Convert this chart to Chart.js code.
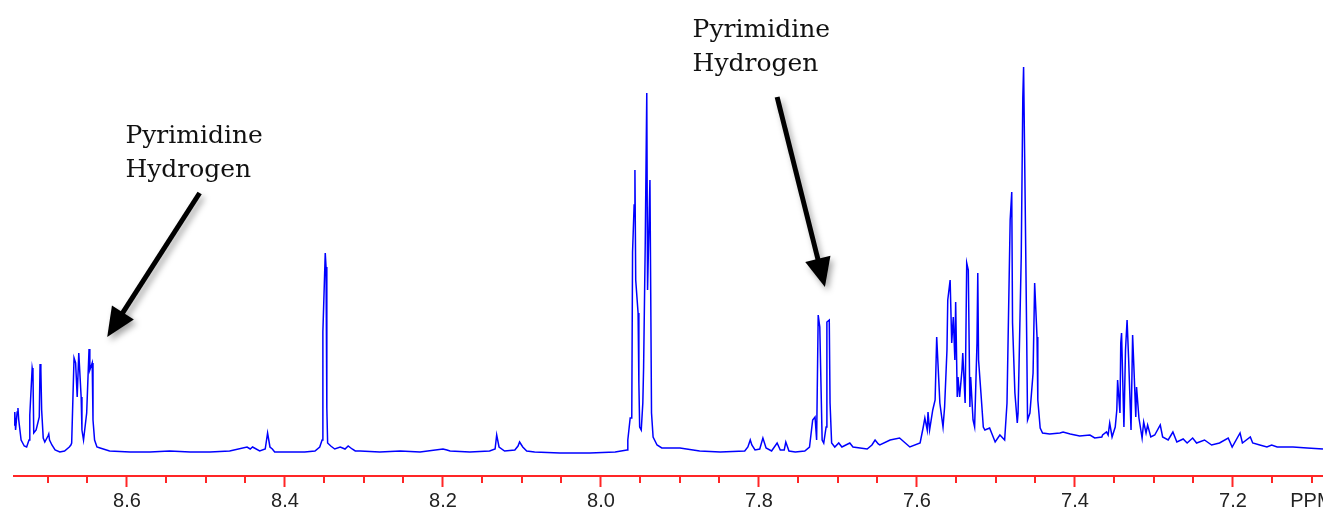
<!DOCTYPE html>
<html>
<head>
<meta charset="utf-8">
<script src="https://cdn.jsdelivr.net/npm/chart.js@4.4.1/dist/chart.umd.min.js"></script>
<style>
  html, body { margin: 0; padding: 0; background: #fff; }
  canvas { display: block; }
</style>
</head>
<body>
<canvas id="nmrChart" width="1323" height="510"></canvas>
<script>
// chemical shift (ppm) and signal intensity (arbitrary units, baseline ~0)
const shiftPpm = [
  8.743, 8.742, 8.741, 8.739, 8.738, 8.737, 8.734, 8.730, 8.727, 8.724, 8.723, 8.720, 8.719, 8.718,
  8.715, 8.711, 8.710, 8.709, 8.708, 8.706, 8.704, 8.700, 8.699, 8.698, 8.695, 8.691, 8.685, 8.679,
  8.673, 8.671, 8.670, 8.667, 8.665, 8.663, 8.661, 8.658, 8.657, 8.655, 8.651, 8.648, 8.647, 8.644,
  8.643, 8.641, 8.638, 8.634, 8.622, 8.596, 8.571, 8.546, 8.520, 8.495, 8.470, 8.448, 8.444, 8.441,
  8.432, 8.425, 8.422, 8.419, 8.416, 8.413, 8.394, 8.375, 8.362, 8.356, 8.353, 8.352, 8.349, 8.348,
  8.347, 8.346, 8.342, 8.337, 8.330, 8.324, 8.320, 8.315, 8.311, 8.305, 8.280, 8.254, 8.229, 8.200,
  8.195, 8.191, 8.166, 8.141, 8.134, 8.132, 8.129, 8.122, 8.109, 8.105, 8.103, 8.099, 8.094, 8.084,
  8.052, 8.014, 7.982, 7.967, 7.966, 7.963, 7.961, 7.960, 7.958, 7.957, 7.956, 7.953, 7.952, 7.951,
  7.949, 7.947, 7.946, 7.944, 7.942, 7.941, 7.938, 7.937, 7.936, 7.934, 7.929, 7.923, 7.900, 7.875,
  7.849, 7.818, 7.814, 7.811, 7.809, 7.805, 7.799, 7.795, 7.791, 7.784, 7.777, 7.773, 7.768, 7.766,
  7.762, 7.754, 7.742, 7.736, 7.732, 7.729, 7.727, 7.725, 7.723, 7.720, 7.718, 7.715, 7.714, 7.711,
  7.710, 7.708, 7.704, 7.699, 7.695, 7.690, 7.685, 7.681, 7.672, 7.663, 7.657, 7.653, 7.649, 7.647,
  7.634, 7.622, 7.609, 7.596, 7.592, 7.590, 7.587, 7.586, 7.584, 7.580, 7.577, 7.575, 7.573, 7.571,
  7.567, 7.565, 7.562, 7.561, 7.558, 7.556, 7.554, 7.552, 7.551, 7.549, 7.548, 7.546, 7.543, 7.542,
  7.539, 7.537, 7.535, 7.533, 7.532, 7.529, 7.527, 7.524, 7.523, 7.522, 7.519, 7.516, 7.514, 7.508,
  7.501, 7.495, 7.489, 7.486, 7.482, 7.480, 7.479, 7.476, 7.473, 7.472, 7.468, 7.466, 7.465, 7.463,
  7.461, 7.460, 7.457, 7.453, 7.451, 7.448, 7.447, 7.444, 7.441, 7.432, 7.419, 7.415, 7.406, 7.394,
  7.381, 7.375, 7.366, 7.365, 7.360, 7.358, 7.356, 7.353, 7.349, 7.347, 7.346, 7.343, 7.342, 7.341,
  7.338, 7.336, 7.334, 7.332, 7.329, 7.327, 7.325, 7.323, 7.322, 7.319, 7.315, 7.313, 7.310, 7.308,
  7.304, 7.299, 7.292, 7.289, 7.282, 7.276, 7.271, 7.263, 7.258, 7.251, 7.246, 7.236, 7.227, 7.217,
  7.206, 7.201, 7.191, 7.188, 7.178, 7.175, 7.166, 7.157, 7.151, 7.144, 7.124, 7.106, 7.086
];
const intensity = [
  25, 38, 20, 38, 42, 30, 10, 4, 3, 10, 35, 82, 77, 17,
  20, 33, 86, 80, 40, 12, 8, 14, 16, 10, 5, 0, -2, -1,
  3, 5, 7, 92, 87, 53, 97, 53, 20, 10, 37, 101, 80, 87,
  30, 10, 3, 2, -1, -2, -2, -1, -2, -2, -1, 3, 1, 3,
  -1, 1, 17, 3, 1, -2, -2, -2, -1, 3, 10, 118, 197, 183,
  42, 7, 4, 1, 3, 1, 4, 1, -1, -1, -2, -1, -2, 1,
  0, -1, -2, -1, 1, 15, 3, -1, 0, 4, 8, 3, -1, -2,
  -3, -3, -2, 0, 10, 32, 32, 198, 245, 280, 170, 137, 67, 23,
  20, 47, 83, 203, 357, 160, 270, 157, 37, 13, 5, 2, 2, -1,
  -2, -1, 3, 10, 5, 0, 1, 12, 2, -1, 7, 0, 0, 8,
  -1, -2, -1, 3, 30, 33, 10, 135, 123, 10, 7, 23, 128, 130,
  47, 7, 3, 7, 3, 5, 7, 3, 2, 1, 5, 10, 6, 5,
  10, 12, 3, 7, 23, 32, 20, 38, 20, 40, 50, 113, 80, 47,
  23, 43, 100, 150, 170, 107, 133, 90, 148, 53, 73, 53, 80, 97,
  47, 187, 180, 43, 73, 30, 23, 107, 177, 90, 57, 23, 20, 22,
  8, 15, 10, 47, 230, 258, 127, 57, 27, 37, 193, 352, 383, 248,
  107, 30, 37, 77, 167, 113, 50, 22, 17, 16, 17, 18, 16, 14,
  15, 12, 13, 15, 18, 15, 27, 13, 23, 40, 70, 37, 107, 117,
  23, 100, 130, 90, 20, 115, 75, 33, 63, 32, 12, 28, 17, 25,
  13, 15, 25, 13, 10, 18, 8, 11, 7, 12, 7, 10, 5, 7,
  12, 3, 17, 7, 13, 7, 5, 3, 5, 3, 3, 2, 1
];

const majorTicks = [8.6, 8.4, 8.2, 8.0, 7.8, 7.6, 7.4, 7.2];
const tickLabels = ['8.6', '8.4', '8.2', '8.0', '7.8', '7.6', '7.4', '7.2'];
const unitTick = 7.1;
const unitLabel = 'PPM';

// annotation labels, anchored in data units (ppm, intensity)
const noteLines = [['Pyrimidine', 'Hydrogen'], ['Pyrimidine', 'Hydrogen']];
const noteTextAt = [[8.602, 307], [7.884, 413]];
const arrowTail = [[8.508, 257], [7.777, 353]];
const arrowTip = [[8.625, 113], [7.7165, 163]];

const AXIS_RED = '#ff2626';

const isMajor = (v) => majorTicks.some((m) => Math.abs(m - v) < 1e-6);

const minorTicks = {
    id: 'minorTicks',
    afterDraw(chart) {
        const sc = chart.scales.x;
        const ctx = chart.ctx;
        ctx.save();
        ctx.strokeStyle = AXIS_RED;
        ctx.lineWidth = 2;
        sc.ticks.forEach((t) => {
            if (isMajor(t.value)) return;
            const x = Math.round(sc.getPixelForValue(t.value));
            ctx.beginPath();
            ctx.moveTo(x, sc.top);
            ctx.lineTo(x, sc.top + 7);
            ctx.stroke();
        });
        ctx.restore();
    }
};

const arrowNotes = {
    id: 'arrowNotes',
    afterDraw(chart) {
        const xs = chart.scales.x, ys = chart.scales.y;
        const ctx = chart.ctx;
        const px = (p) => [xs.getPixelForValue(p[0]), ys.getPixelForValue(p[1])];
        ctx.save();
        ctx.font = '25px "DejaVu Serif", serif';
        ctx.fillStyle = '#111';
        ctx.textBaseline = 'alphabetic';
        noteLines.forEach((lines, i) => {
            const [tx, ty] = px(noteTextAt[i]);
            lines.forEach((s, k) => ctx.fillText(s, tx, ty + k * 34));
        });

        arrowTail.forEach((tail, i) => {
            const [x0, y0] = px(tail);
            const [x1, y1] = px(arrowTip[i]);
            const len = Math.hypot(x1 - x0, y1 - y0);
            const ux = (x1 - x0) / len, uy = (y1 - y0) / len;
            const headLen = 29, half = 13;
            const bx = x1 - ux * headLen, by = y1 - uy * headLen;
            ctx.save();
            ctx.shadowColor = 'rgba(0,0,0,0.35)';
            ctx.shadowBlur = 6;
            ctx.shadowOffsetX = 3;
            ctx.shadowOffsetY = 4;
            ctx.strokeStyle = '#000';
            ctx.fillStyle = '#000';
            ctx.lineWidth = 5;
            ctx.beginPath();
            ctx.moveTo(x0, y0);
            ctx.lineTo(bx + ux * 4, by + uy * 4);
            ctx.stroke();
            ctx.beginPath();
            ctx.moveTo(x1, y1);
            ctx.lineTo(bx - uy * half, by + ux * half);
            ctx.lineTo(bx + uy * half, by - ux * half);
            ctx.closePath();
            ctx.fill();
            ctx.restore();
        });
        ctx.restore();
    }
};

new Chart(document.getElementById('nmrChart'), {
    type: 'line',
    data: {
        datasets: [{
            label: '1H NMR',
            data: shiftPpm.map((p, i) => ({ x: p, y: intensity[i] })),
            borderColor: '#0000ff',
            borderWidth: 1.5,
            pointRadius: 0,
            tension: 0,
            fill: false
        }]
    },
    options: {
        responsive: false,
        animation: false,
        layout: { autoPadding: false, padding: { left: 14, right: 0, top: 0, bottom: 0 } },
        plugins: { legend: { display: false }, tooltip: { enabled: false } },
        scales: {
            x: {
                type: 'linear',
                reverse: true,
                min: 7.086,
                max: 8.743,
                afterFit: (scale) => {
                    scale.height = 34;
                    // let the PPM label run off the edge like the original
                    scale.paddingLeft = 0;
                    scale.paddingRight = 0;
                },
                border: { display: true, color: AXIS_RED, width: 2 },
                grid: {
                    drawOnChartArea: false,
                    drawTicks: true,
                    tickLength: 11,
                    tickWidth: 2,
                    tickColor: (c) => (c.tick && isMajor(c.tick.value) ? AXIS_RED : 'rgba(0,0,0,0)')
                },
                ticks: {
                    stepSize: 0.05,
                    includeBounds: false,
                    autoSkip: false,
                    maxRotation: 0,
                    padding: 2,
                    color: '#222',
                    font: { family: '"Liberation Sans", Arial, sans-serif', size: 20 },
                    callback: (v) => {
                        const i = majorTicks.findIndex((m) => Math.abs(m - v) < 1e-6);
                        if (i >= 0) return tickLabels[i];
                        if (Math.abs(v - unitTick) < 1e-6) return unitLabel;
                        return '';
                    }
                }
            },
            y: { display: false, min: -26, max: 450 }
        }
    },
    plugins: [minorTicks, arrowNotes]
});
</script>
</body>
</html>
